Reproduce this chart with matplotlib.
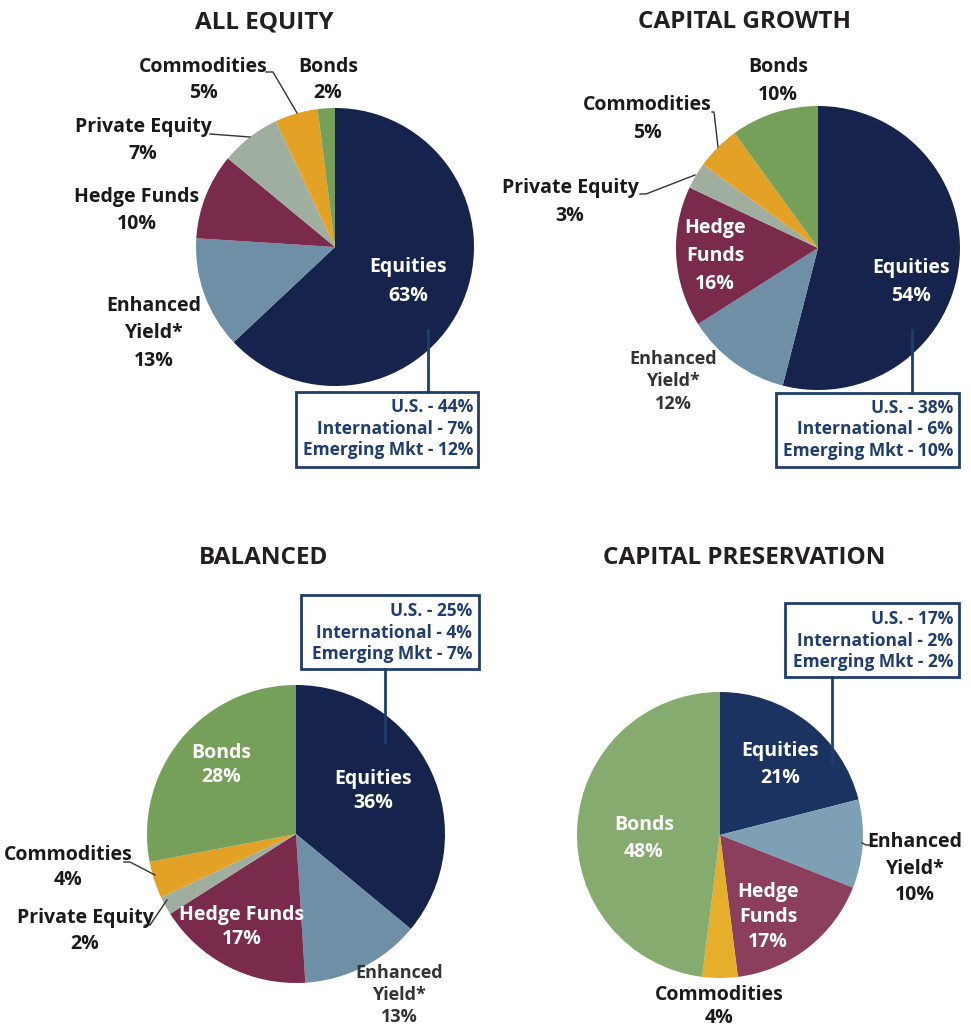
import matplotlib.pyplot as plt
from matplotlib.patches import Rectangle

plt.rcParams['font.family'] = ['Open Sans', 'DejaVu Sans']

# data
titles = ["ALL EQUITY", "CAPITAL GROWTH", "BALANCED", "CAPITAL PRESERVATION"]
asset_classes = ["Equities", "Enhanced Yield*", "Hedge Funds", "Private Equity", "Commodities", "Bonds"]
all_equity = [63, 13, 10, 7, 5, 2]
capital_growth = [54, 12, 16, 3, 5, 10]
balanced = [36, 13, 17, 2, 4, 28]
capital_preservation = [21, 10, 17, 0, 4, 48]

regions = ["U.S.", "International", "Emerging Mkt"]
eq_all_equity = [44, 7, 12]
eq_capital_growth = [38, 6, 10]
eq_balanced = [25, 4, 7]
eq_capital_preservation = [17, 2, 2]

# colours
cols_dark = ["#16244d", "#6e8fa6", "#7a2a4a", "#a0ae9f", "#e3a126", "#76a05a"]
cols_light = ["#1b3360", "#7ea0b5", "#8b3f5d", "#a0ae9f", "#e6ae2a", "#86ab6e"]
BOX = "#1f3d6d"
TXT = "#1a1a1a"

W, H = 971, 1030
fig = plt.figure(figsize=(W/100, H/100), dpi=100)
ax = fig.add_axes([0, 0, 1, 1])


def lines(x, y0, txt, dy, color=TXT, size=14):
    for i, t in enumerate(txt.split("\n")):
        ax.text(x, y0 + i*dy, t, ha='center', va='center', fontsize=size,
                fontweight='bold', color=color)


def pie(values, colors, cx, cy, r):
    v = [a for a in values if a > 0]
    c = [colors[i] for i, a in enumerate(values) if a > 0]
    ax.pie(v, colors=c, center=(cx, cy), radius=r, startangle=-90,
           counterclock=True, wedgeprops=dict(linewidth=0), frame=True)


def callout(vals, left, top, right, bottom, tx, ty, lx, ly0, ly1):
    ax.add_patch(Rectangle((left, top), right-left, bottom-top, fill=False,
                           edgecolor=BOX, linewidth=2, zorder=5))
    ax.plot([lx, lx], [ly0, ly1], color=BOX, lw=2, zorder=5)
    for i, (n, v) in enumerate(zip(regions, vals)):
        ax.text(tx, ty + i*21.5, f"{n} - {v}%", ha='right', va='center',
                fontsize=12.5, fontweight='bold', color=BOX)


def lbl(values, i, name):
    return f"{name}\n{values[i]}%"


# titles
for t, (x, y) in zip(titles, [(264, 22), (744, 22), (264, 558), (744, 558)]):
    ax.text(x, y, t, ha='center', va='center', fontsize=17.5, fontweight='bold', color="#231f20")

# ALL EQUITY
d = all_equity
pie(d, cols_dark, 335, 247, 139)
lines(408, 267, lbl(d, 0, "Equities"), 29, color='white')
lines(154, 306, lbl(d, 1, "Enhanced\nYield*"), 27.5)
lines(137, 197, lbl(d, 2, "Hedge Funds"), 27)
lines(143, 127, lbl(d, 3, "Private Equity"), 27)
lines(203, 67, lbl(d, 4, "Commodities"), 26)
lines(328, 67, lbl(d, 5, "Bonds"), 26)
ax.plot([266, 273, 297], [72, 72, 113], color="#333333", lw=1)
ax.plot([210, 250], [134, 137], color="#333333", lw=1)
callout(eq_all_equity, 296, 392, 478, 467, 473, 407, 428, 330, 392)

# CAPITAL GROWTH
d = capital_growth
pie(d, cols_dark, 818, 248, 142)
lines(911, 268, lbl(d, 0, "Equities"), 28, color='white')
lines(673, 359, lbl(d, 1, "Enhanced\nYield*"), 22.5, color="#333333", size=13)
lines(715, 228, lbl(d, 2, "Hedge\nFunds"), 28, color='white')
lines(570, 188, lbl(d, 3, "Private Equity"), 28)
lines(647, 105, lbl(d, 4, "Commodities"), 28)
lines(778, 67, lbl(d, 5, "Bonds"), 28)
ax.plot([712, 714, 718], [112, 112, 147], color="#333333", lw=1)
ax.plot([640, 646, 695], [194, 194, 175], color="#333333", lw=1)
callout(eq_capital_growth, 776, 393, 959, 467, 953, 408, 912, 330, 393)

# BALANCED
d = balanced
pie(d, cols_dark, 296, 834, 149)
lines(373, 779, lbl(d, 0, "Equities"), 24.5, color='white')
lines(399, 973, lbl(d, 1, "Enhanced\nYield*"), 22, color="#333333", size=13)
lines(242, 915, lbl(d, 2, "Hedge Funds"), 24.5, color='white')
lines(85, 918, lbl(d, 3, "Private Equity"), 26)
lines(68, 855, lbl(d, 4, "Commodities"), 25)
lines(221, 753, lbl(d, 5, "Bonds"), 24.5, color='white')
ax.plot([124, 130, 155], [862, 862, 875], color="#333333", lw=1)
ax.plot([145, 150, 167], [925, 925, 900], color="#333333", lw=1)
callout(eq_balanced, 301, 595, 479, 669, 472, 611, 385, 669, 742)

# CAPITAL PRESERVATION
d = capital_preservation
pie(d, cols_light, 720, 835, 143)
lines(780, 751, lbl(d, 0, "Equities"), 27, color='white')
lines(915, 842, lbl(d, 1, "Enhanced\nYield*"), 26.5)
lines(768, 892, lbl(d, 2, "Hedge\nFunds"), 25, color='white')
lines(719, 995, lbl(d, 4, "Commodities"), 23)
lines(644, 825, lbl(d, 5, "Bonds"), 27, color='white')
ax.plot([862, 866, 872], [843, 845, 845], color="#333333", lw=1)
callout(eq_capital_preservation, 785, 603, 959, 677, 953, 619, 832, 677, 764)

ax.set_xlim(0, W)
ax.set_ylim(H, 0)
ax.axis('off')
plt.savefig("out.png", dpi=100)
